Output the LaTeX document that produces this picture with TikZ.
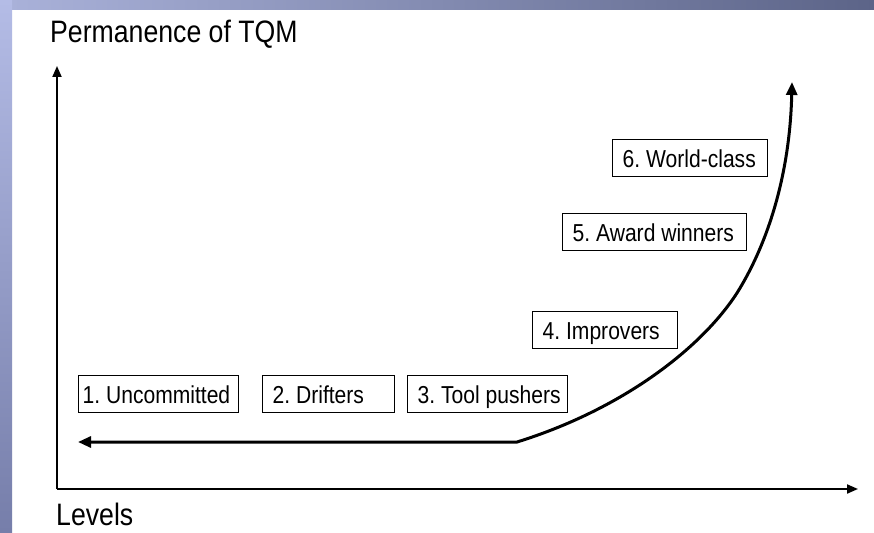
\documentclass[tikz,border=0pt]{standalone}
\usepackage{fontspec}
\setmainfont{Liberation Sans}[FakeStretch=0.86]
\usetikzlibrary{arrows.meta}
% fixed-width box content: width, left padding, text
\newcommand{\stagelabel}[3]{\makebox[#1pt][l]{\hspace*{#2pt}#3}}
\definecolor{stripTop}{RGB}{180,188,230}
\definecolor{stripBottom}{RGB}{118,126,170}
\definecolor{bandLeft}{RGB}{170,178,218}
\definecolor{bandRight}{RGB}{92,100,136}
\frenchspacing
\begin{document}
\begin{tikzpicture}[x=1pt,y=-1pt,
  axis/.style={line width=2pt, -{Triangle[length=11pt,width=9pt]}},
  growth/.style={line width=3pt, {Triangle[length=13pt,width=11pt]}-{Triangle[length=13pt,width=11pt]}},
  stage/.style={draw, line width=1.4pt, fill=white, inner xsep=0pt, inner ysep=9.7pt,
    text height=17.6pt, text depth=0pt, anchor=north west,
    font=\fontsize{24.5}{28}\selectfont},
  axislabel/.style={inner sep=0pt, anchor=base west, font=\fontsize{31}{36}\selectfont}]
  \useasboundingbox (0,0) rectangle (874,532);
  \fill[white] (0,0) rectangle (874,532);
  % slide frame
  \shade[left color=bandLeft, right color=bandRight] (0,0) rectangle (874,10);
  \shade[top color=stripTop, bottom color=stripBottom] (0,0) rectangle (12,532);

  % axes
  \coordinate (origin) at (57,489);
  \coordinate (ytip) at (57,66);
  \coordinate (xtip) at (858,489);
  \draw[axis] (origin) -- (ytip);
  \draw[axis] (origin) -- (xtip);
  \node[axislabel] (ylabel) at (50,43) {Permanence of TQM};
  \node[axislabel] (xlabel) at (56,525) {Levels};

  % growth curve
  \coordinate (lowtip) at (78,442);
  \coordinate (bend) at (517,442);
  \coordinate (mid) at (737,293);
  \coordinate (hightip) at (792,82);
  \draw[growth] (lowtip) -- (bend) .. controls (620,410) and (700,350) .. (mid)
    .. controls (770,240) and (790,170) .. (hightip);

  % levels
  \node[stage] (s1) at (78,375) {\stagelabel{160}{4}{1. Uncommitted}};
  \node[stage] (s2) at (262,375) {\stagelabel{132}{10}{2. Drifters}};
  \node[stage] (s3) at (407,375) {\stagelabel{160}{10}{3. Tool pushers}};
  \node[stage] (s4) at (532,311) {\stagelabel{145}{10}{4. Improvers}};
  \node[stage] (s5) at (562,213) {\stagelabel{184}{10}{5. Award winners}};
  \node[stage] (s6) at (612,139) {\stagelabel{155}{10}{6. World-class}};
\end{tikzpicture}
\end{document}
